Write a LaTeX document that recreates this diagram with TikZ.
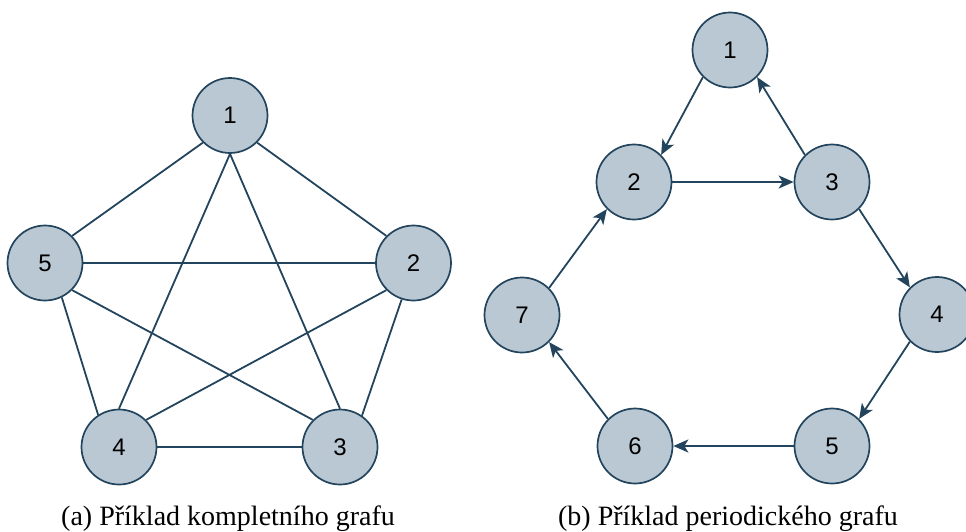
\documentclass[tikz,border=0pt]{standalone}
\usepackage{fontspec}
\setmainfont{Liberation Serif}
\newfontfamily\numfont{Liberation Sans}
\usetikzlibrary{arrows.meta}
\definecolor{nodefill}{HTML}{BAC8D3}
\definecolor{nodeline}{HTML}{23445D}
\tikzset{
  vert/.style={circle, draw=nodeline, fill=nodefill, line width=1.7pt, minimum size=75pt, inner sep=0pt, font=\numfont\fontsize{24}{24}\selectfont},
  edgeline/.style={draw=nodeline, line width=1.8pt},
  arcline/.style={edgeline, -{Stealth[length=15pt, width=13pt, inset=4pt]}},
  captext/.style={font=\fontsize{28}{28}\selectfont, anchor=base}
}
\begin{document}
\begin{tikzpicture}[x=1pt, y=-1pt]
\useasboundingbox (0,0) rectangle (966,531);
% complete graph
\node[vert] (a1) at (230,115.5) {1};
\node[vert] (a5) at (45,263) {5};
\node[vert] (a2) at (413.5,263) {2};
\node[vert] (a4) at (119,447) {4};
\node[vert] (a3) at (340,447) {3};
\draw[edgeline] (a1.225) -- (a5.45);
\draw[edgeline] (a1.315) -- (a2.135);
\draw[edgeline] (a1.south) -- (a4.north);
\draw[edgeline] (a1.south) -- (a3.north);
\draw[edgeline] (a5.east) -- (a2.west);
\draw[edgeline] (a5.315) -- (a3.135);
\draw[edgeline] (a5.296) -- (a4.123);
\draw[edgeline] (a2.225) -- (a4.45);
\draw[edgeline] (a2.252) -- (a3.55);
\draw[edgeline] (a4.east) -- (a3.west);
% periodic graph
\node[vert] (b1) at (730,50) {1};
\node[vert] (b2) at (634,182) {2};
\node[vert] (b3) at (832,182) {3};
\node[vert] (b4) at (937,314.5) {4};
\node[vert] (b5) at (832,446) {5};
\node[vert] (b6) at (635,446) {6};
\node[vert] (b7) at (522,315) {7};
\draw[arcline] (b1.225) -- (b2.45);
\draw[arcline] (b2.east) -- (b3.west);
\draw[arcline] (b3.135) -- (b1.315);
\draw[arcline] (b3.315) -- (b4.135);
\draw[arcline] (b4.225) -- (b5.45);
\draw[arcline] (b5.west) -- (b6.east);
\draw[arcline] (b6.135) -- (b7.315);
\draw[arcline] (b7.45) -- (b2.225);
% captions
\node[captext] (capa) at (228,525) {(a) Příklad kompletního grafu};
\node[captext] (capb) at (728,525) {(b) Příklad periodického grafu};
\end{tikzpicture}
\end{document}
